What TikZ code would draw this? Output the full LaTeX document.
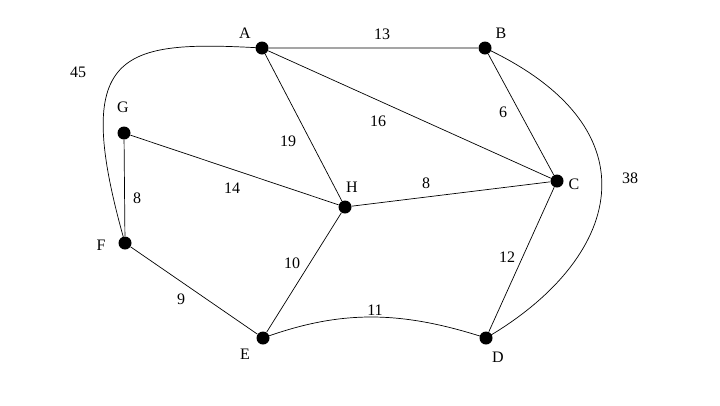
\documentclass[tikz,border=0pt]{standalone}
\usepackage{fontspec}
\setmainfont{Liberation Serif}
\begin{document}
\begin{tikzpicture}[x=1pt,y=-1pt,
  vtx/.style={circle,fill=black,inner sep=0pt,minimum size=13pt},
  lbl/.style={font=\fontsize{16}{18}\selectfont},
  every path/.style={line width=0.7pt}]
\useasboundingbox (0,0) rectangle (720,405);
\node[vtx] (A) at (262,48) {};
\node[vtx] (B) at (485,48) {};
\node[vtx] (C) at (557,181) {};
\node[vtx] (H) at (345,207) {};
\node[vtx] (G) at (124,133) {};
\node[vtx] (F) at (125,243) {};
\node[vtx] (E) at (263,338) {};
\node[vtx] (D) at (486,338) {};
\node[lbl] at (245,33) {A};
\node[lbl] at (501,33) {B};
\node[lbl] at (123,107) {G};
\node[lbl] at (352,187) {H};
\node[lbl] at (574,184) {C};
\node[lbl] at (101,245) {F};
\node[lbl] at (245,354) {E};
\node[lbl] at (498,357) {D};
\draw (A) -- (B) (A) -- (C) (A) -- (H) (B) -- (C) (G) -- (H) (G) -- (F)
  (H) -- (C) (H) -- (E) (F) -- (E) (C) -- (D);
\draw (A.center) .. controls (120,40) and (70,50) .. (F.center);
\draw (B.center) .. controls (660,130) and (620,260) .. (D.center);
\draw (E.center) .. controls (340,310) and (400,310) .. (D.center);
\node[lbl] at (382,34) {13};
\node[lbl] at (378,121) {16};
\node[lbl] at (503,112) {6};
\node[lbl] at (288,141) {19};
\node[lbl] at (232,188) {14};
\node[lbl] at (426,183) {8};
\node[lbl] at (137,198) {8};
\node[lbl] at (292,263) {10};
\node[lbl] at (181,299) {9};
\node[lbl] at (375,310) {11};
\node[lbl] at (507,257) {12};
\node[lbl] at (78,72) {45};
\node[lbl] at (630,178) {38};
\end{tikzpicture}
\end{document}
